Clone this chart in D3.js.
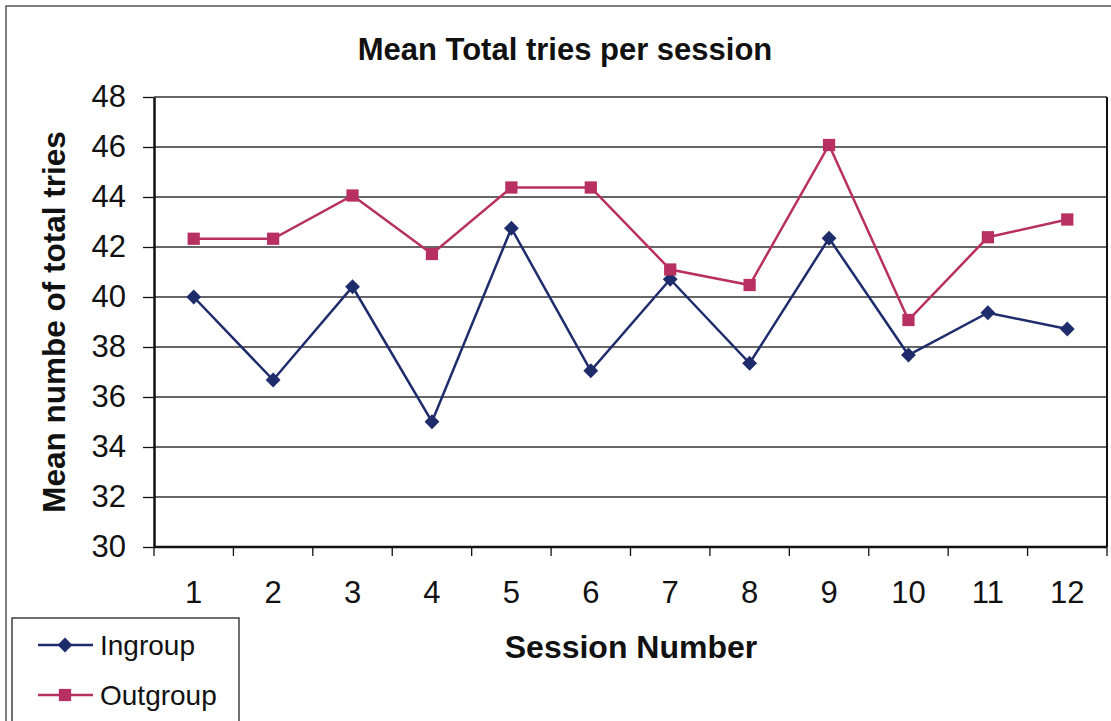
<!DOCTYPE html>
<html>
<head>
<meta charset="utf-8">
<script src="https://cdn.jsdelivr.net/npm/d3@7"></script>
<style>
  body { margin: 0; background: #fff; }
  svg { display: block; font-family: Arial, "Liberation Sans", sans-serif; }
</style>
</head>
<body>
<svg id="chart" width="1111" height="721"></svg>
<script>
// chart data
const sessions = ['1', '2', '3', '4', '5', '6', '7', '8', '9', '10', '11', '12'];
const ingroup = [40.0, 36.68, 40.41, 35.01, 42.75, 37.05, 40.71, 37.35, 42.35, 37.68, 39.37, 38.72];
const outgroup = [42.33, 42.33, 44.06, 41.72, 44.38, 44.38, 41.1, 40.48, 46.08, 39.08, 42.39, 43.1];
const yTicks = [30, 32, 34, 36, 38, 40, 42, 44, 46, 48];

const series = [
    {name: 'Ingroup', values: ingroup, color: '#1f2c6c', rotate: 45, size: 110},
    {name: 'Outgroup', values: outgroup, color: '#b7305f', rotate: 0, size: 150}
];

const svg = d3.select('#chart');
const margin = {top: 97, right: 4, bottom: 174, left: 154};
const width = 1111 - margin.left - margin.right;
const height = 721 - margin.top - margin.bottom;

// outer frame (only top and left edges show in the scan)
svg.append('path')
    .attr('d', 'M6,721 L6,6 L1111,6')
    .attr('fill', 'none')
    .attr('stroke', '#555')
    .attr('stroke-width', 1.5);

const x = d3.scaleBand().domain(sessions).range([0, width]);
const y = d3.scaleLinear().domain([30, 48]).range([height, 0]);

const g = svg.append('g')
    .attr('transform', `translate(${margin.left},${margin.top})`);

// gridlines
g.selectAll('.grid')
    .data(yTicks.slice(1))
    .enter().append('line')
    .attr('x1', 0)
    .attr('x2', width)
    .attr('y1', d => y(d))
    .attr('y2', d => y(d))
    .attr('stroke', '#333')
    .attr('stroke-width', 1.3);

// right border of plot
g.append('line')
    .attr('x1', width).attr('x2', width)
    .attr('y1', 0).attr('y2', height)
    .attr('stroke', '#111')
    .attr('stroke-width', 2);

// y axis
const yAxis = g.append('g')
    .call(d3.axisLeft(y).tickValues(yTicks).tickSize(11).tickPadding(17).tickSizeOuter(0));
yAxis.select('.domain').attr('stroke', '#111').attr('stroke-width', 2.5);
yAxis.selectAll('.tick line').attr('stroke', '#111').attr('stroke-width', 1.3);
yAxis.selectAll('.tick text')
    .attr('font-size', 31)
    .attr('fill', '#111')
    .attr('font-family', 'Arial, "Liberation Sans", sans-serif');

// x axis, ticks between categories
const xAxis = g.append('g')
    .attr('transform', `translate(0,${height})`);
xAxis.append('line')
    .attr('x1', 0).attr('x2', width)
    .attr('stroke', '#111')
    .attr('stroke-width', 2.5);
xAxis.selectAll('.xtick')
    .data(sessions.concat(['end']))
    .enter().append('line')
    .attr('x1', (d, i) => i * x.step())
    .attr('x2', (d, i) => i * x.step())
    .attr('y1', 0)
    .attr('y2', 9)
    .attr('stroke', '#111')
    .attr('stroke-width', 1.3);
xAxis.selectAll('.xlabel')
    .data(sessions)
    .enter().append('text')
    .attr('x', d => x(d) + x.bandwidth() / 2)
    .attr('y', 56)
    .attr('text-anchor', 'middle')
    .attr('font-size', 31)
    .attr('fill', '#111')
    .text(d => d);

// lines and markers
const line = d3.line()
    .x((d, i) => x(sessions[i]) + x.bandwidth() / 2)
    .y(d => y(d));

const marker = s => d3.symbol().type(d3.symbolSquare).size(s.size)();

series.forEach(s => {
    g.append('path')
        .datum(s.values)
        .attr('fill', 'none')
        .attr('stroke', s.color)
        .attr('stroke-width', 2.5)
        .attr('d', line);

    g.selectAll(null)
        .data(s.values)
        .enter().append('path')
        .attr('d', marker(s))
        .attr('transform', (d, i) =>
            `translate(${x(sessions[i]) + x.bandwidth() / 2},${y(d)}) rotate(${s.rotate})`)
        .attr('fill', s.color);
});

// title
svg.append('text')
    .attr('x', 565)
    .attr('y', 60)
    .attr('text-anchor', 'middle')
    .attr('font-size', 31)
    .attr('font-weight', 'bold')
    .attr('fill', '#111')
    .text('Mean Total tries per session');

// axis titles
svg.append('text')
    .attr('transform', 'translate(65,322) rotate(-90)')
    .attr('text-anchor', 'middle')
    .attr('font-size', 31.5)
    .attr('font-weight', 'bold')
    .attr('fill', '#111')
    .text('Mean numbe of total tries');

svg.append('text')
    .attr('x', 631)
    .attr('y', 658)
    .attr('text-anchor', 'middle')
    .attr('font-size', 32)
    .attr('font-weight', 'bold')
    .attr('fill', '#111')
    .text('Session Number');

// legend
const legend = svg.append('g');
legend.append('rect')
    .attr('x', 12)
    .attr('y', 618)
    .attr('width', 227)
    .attr('height', 110)
    .attr('fill', '#fff')
    .attr('stroke', '#222')
    .attr('stroke-width', 1.3);

series.forEach((s, i) => {
    const cy = 645 + i * 50;
    legend.append('line')
        .attr('x1', 38).attr('x2', 93)
        .attr('y1', cy).attr('y2', cy)
        .attr('stroke', s.color)
        .attr('stroke-width', 2.5);
    legend.append('path')
        .attr('d', marker(s))
        .attr('transform', `translate(65,${cy}) rotate(${s.rotate})`)
        .attr('fill', s.color);
    legend.append('text')
        .attr('x', 100)
        .attr('y', cy + 10)
        .attr('font-size', 28)
        .attr('fill', '#111')
        .text(s.name);
});
</script>
</body>
</html>
